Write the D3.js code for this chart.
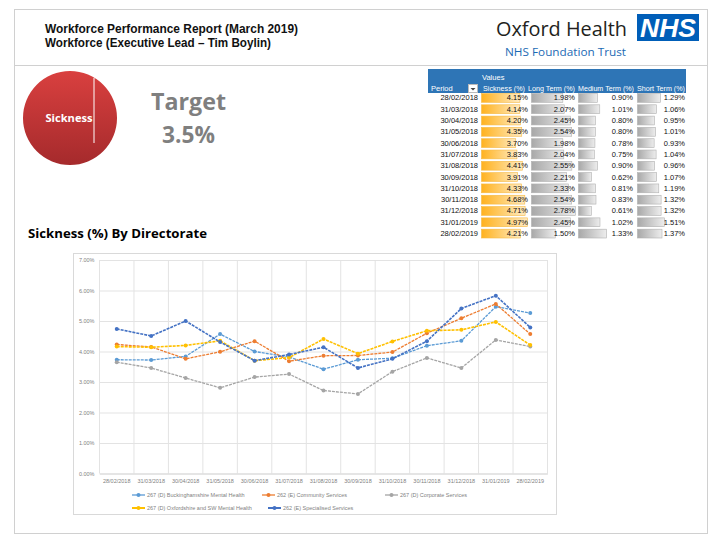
<!DOCTYPE html>
<html><head><meta charset="utf-8">
<script src="https://cdn.jsdelivr.net/npm/d3@7"></script>
<style>body{margin:0;background:#fff}svg{display:block}</style>
</head><body>
<svg id="c" width="720" height="540"></svg>
<script>
// ---------- data ----------
const periods = ["28/02/2018","31/03/2018","30/04/2018","31/05/2018","30/06/2018","31/07/2018","31/08/2018","30/09/2018","31/10/2018","30/11/2018","31/12/2018","31/01/2019","28/02/2019"];
const seriesNames = ["267 (D) Buckinghamshire Mental Health","262 (E) Community Services","267 (D) Corporate Services","267 (D) Oxfordshire and SW Mental Health","262 (E) Specialised Services"];
const seriesColors = ["#5B9BD5","#ED7D31","#A5A5A5","#FFC000","#4472C4"];
const bucks       = [3.73,3.72,3.84,4.57,4.00,3.82,3.42,3.73,3.78,4.19,4.35,5.47,5.26];
const community   = [4.23,4.15,3.76,3.99,4.34,3.68,3.86,3.87,3.98,4.60,5.09,5.56,4.57];
const corporate   = [3.65,3.46,3.13,2.81,3.16,3.26,2.72,2.61,3.34,3.79,3.46,4.38,4.16];
const oxfordshire = [4.16,4.14,4.20,4.35,3.70,3.80,4.41,3.93,4.33,4.68,4.71,4.97,4.21];
const specialised = [4.74,4.51,5.00,4.31,3.70,3.90,4.14,3.46,3.76,4.34,5.41,5.83,4.79];
const yTicks = [0,1,2,3,4,5,6,7];

const tableHeaders = ["Period","Sickness (%)","Long Term (%)","Medium Term (%)","Short Term (%)"];
const tableSickness = [4.15,4.14,4.20,4.35,3.70,3.83,4.41,3.91,4.33,4.68,4.71,4.97,4.21];
const tableLong     = [1.98,2.07,2.45,2.54,1.98,2.04,2.55,2.21,2.33,2.54,2.78,2.45,1.50];
const tableMedium   = [0.90,1.01,0.80,0.80,0.78,0.75,0.90,0.62,0.81,0.83,0.61,1.02,1.33];
const tableShort    = [1.29,1.06,0.95,1.01,0.93,1.04,0.96,1.07,1.19,1.32,1.32,1.51,1.37];

const pieLabel = "Sickness";
const pieValues = [1];
const targetLabel = "Target";
const targetValue = "3.5%";

// ---------- drawing ----------
const svg = d3.select("#c");
svg.append("rect").attr("width",720).attr("height",540).attr("fill","#fff");
const defs = svg.append("defs");

// page frame
svg.append("rect").attr("x",14.5).attr("y",9.5).attr("width",693).attr("height",524)
  .attr("fill","none").attr("stroke","#D0D0D0");
svg.append("line").attr("x1",14.5).attr("x2",707.5).attr("y1",65.5).attr("y2",65.5).attr("stroke","#D0D0D0");

// header titles
const hf = "'Liberation Sans Narrow', 'Liberation Sans', sans-serif";
svg.append("text").attr("x",45).attr("y",33).attr("font-family",hf).attr("font-weight","bold")
  .attr("font-size",12.5).attr("fill","#111").attr("textLength",253).attr("lengthAdjust","spacingAndGlyphs")
  .text("Workforce Performance Report (March 2019)");
svg.append("text").attr("x",45).attr("y",47).attr("font-family",hf).attr("font-weight","bold")
  .attr("font-size",12.5).attr("fill","#111").attr("textLength",226).attr("lengthAdjust","spacingAndGlyphs")
  .text("Workforce (Executive Lead \u2013 Tim Boylin)");

// logo
svg.append("text").attr("x",496).attr("y",36).attr("font-family","'Open Sans', sans-serif")
  .attr("font-size",20).attr("fill","#231F20").attr("textLength",131).attr("lengthAdjust","spacingAndGlyphs")
  .text("Oxford Health");
svg.append("rect").attr("x",637).attr("y",14).attr("width",62).attr("height",27).attr("fill","#005EB8");
svg.append("text").attr("x",668).attr("y",37).attr("text-anchor","middle").attr("font-family","'Liberation Sans', Arial, sans-serif")
  .attr("font-weight","bold").attr("font-style","italic").attr("font-size",25).attr("fill","#fff")
  .attr("textLength",56).attr("lengthAdjust","spacingAndGlyphs").text("NHS");
svg.append("text").attr("x",505).attr("y",56).attr("font-family","'Open Sans', sans-serif")
  .attr("font-size",11.5).attr("fill","#1C6AB4").attr("textLength",121).attr("lengthAdjust","spacingAndGlyphs")
  .text("NHS Foundation Trust");

// pie
const pg = defs.append("linearGradient").attr("id","pieg").attr("x1",0).attr("y1",0).attr("x2",0).attr("y2",1);
pg.append("stop").attr("offset","0%").attr("stop-color","#D9403F");
pg.append("stop").attr("offset","100%").attr("stop-color","#A52A2C");
const pie = d3.pie().sort(null)(pieValues);
const arc = d3.arc().innerRadius(0).outerRadius(47);
const pieG = svg.append("g").attr("transform","translate(70,118)");
pieG.selectAll("path").data(pie).join("path").attr("d",arc).attr("fill","url(#pieg)");
pieG.append("line").attr("x1",24).attr("x2",24).attr("y1",-40).attr("y2",25).attr("stroke","#fff").attr("stroke-width",1);
pieG.append("text").attr("x",-1).attr("y",4).attr("text-anchor","middle").attr("font-family","'Open Sans', sans-serif")
  .attr("font-weight","bold").attr("font-size",11).attr("fill","#fff").attr("textLength",47).attr("lengthAdjust","spacingAndGlyphs").text(pieLabel);

// target
svg.append("text").attr("x",188.5).attr("y",110).attr("text-anchor","middle").attr("font-family","'Open Sans', sans-serif")
  .attr("font-weight","bold").attr("font-size",24).attr("fill","#7F7F7F").attr("textLength",75).attr("lengthAdjust","spacingAndGlyphs").text(targetLabel);
svg.append("text").attr("x",188.5).attr("y",143).attr("text-anchor","middle").attr("font-family","'Open Sans', sans-serif")
  .attr("font-weight","bold").attr("font-size",24).attr("fill","#7F7F7F").attr("textLength",53).attr("lengthAdjust","spacingAndGlyphs").text(targetValue);

// section heading
svg.append("text").attr("x",28).attr("y",238).attr("font-family","'Open Sans', sans-serif")
  .attr("font-weight","bold").attr("font-size",13).attr("fill","#000").attr("textLength",179).attr("lengthAdjust","spacingAndGlyphs")
  .text("Sickness (%) By Directorate");

// ---------- table ----------
const tf = "'Liberation Sans Narrow', 'Liberation Sans', sans-serif";
const tX0 = 428, tX1 = 686;
svg.append("rect").attr("x",tX0).attr("y",69).attr("width",tX1-tX0).attr("height",24).attr("fill","#2E75B6");
svg.append("text").attr("x",482).attr("y",80).attr("font-family",tf).attr("font-size",7.5).attr("fill","#fff").text("Values");
const hdrX = [431, 483, 528, 578, 637];
const hdrW = [null, 42, 47, 56, 48];
tableHeaders.forEach((h,i)=>{
  const t = svg.append("text").attr("x",hdrX[i]).attr("y",91).attr("font-family",tf).attr("font-size",7.5).attr("fill","#fff").text(h);
  if (hdrW[i]) t.attr("textLength",hdrW[i]).attr("lengthAdjust","spacingAndGlyphs");
});
// filter button
svg.append("rect").attr("x",468.5).attr("y",84.5).attr("width",9).attr("height",8).attr("fill","#fff").attr("stroke","#bbb");
svg.append("path").attr("d","M470.5,88 L475.5,88 L473,90.5 Z").attr("fill","#444");

const rowY = d3.scaleBand().domain(periods).range([92,239]);
const rh = rowY.bandwidth();
const og = defs.append("linearGradient").attr("id","og").attr("x1",0).attr("x2",1).attr("y1",0).attr("y2",0);
og.append("stop").attr("offset","0%").attr("stop-color","#FFB21F");
og.append("stop").attr("offset","100%").attr("stop-color","#FFEBC2");
const gg = defs.append("linearGradient").attr("id","gg").attr("x1",0).attr("x2",1).attr("y1",0).attr("y2",0);
gg.append("stop").attr("offset","0%").attr("stop-color","#A8A8A8");
gg.append("stop").attr("offset","100%").attr("stop-color","#EDEDED");

const cols = [
  {vals: tableSickness, x0: 481, w: 46, tx: 528, fill:"url(#og)", stroke:"#F5B841"},
  {vals: tableLong,     x0: 531, w: 44, tx: 575, fill:"url(#gg)", stroke:"#B0B0B0"},
  {vals: tableMedium,   x0: 578, w: 28, tx: 633, fill:"url(#gg)", stroke:"#B0B0B0"},
  {vals: tableShort,    x0: 637, w: 27, tx: 685, fill:"url(#gg)", stroke:"#B0B0B0"}
];
const tbody = svg.append("g");
tbody.selectAll("text.per").data(periods).join("text").attr("class","per")
  .attr("x",478).attr("y",d=>rowY(d)+rh/2+2.7).attr("text-anchor","end")
  .attr("font-family",tf).attr("font-size",7.5).attr("fill","#111").text(d=>d);
cols.forEach(c=>{
  const s = d3.scaleLinear().domain([0,d3.max(c.vals)]).range([0,c.w]);
  const g = tbody.append("g");
  g.selectAll("rect").data(c.vals).join("rect")
    .attr("x",c.x0+0.5).attr("y",(d,i)=>rowY(periods[i])+1.5).attr("width",d=>s(d)).attr("height",rh-2.5)
    .attr("fill",c.fill).attr("stroke",c.stroke).attr("stroke-width",0.6);
  g.selectAll("text").data(c.vals).join("text")
    .attr("x",c.tx).attr("y",(d,i)=>rowY(periods[i])+rh/2+2.7).attr("text-anchor","end")
    .attr("font-family",tf).attr("font-size",7.5).attr("fill","#111").text(d=>d.toFixed(2)+"%");
});

// ---------- line chart ----------
svg.append("rect").attr("x",73.5).attr("y",253.5).attr("width",483).attr("height",261)
  .attr("fill","#fff").attr("stroke","#D9D9D9");
const x = d3.scaleBand().domain(periods).range([99.5,547.5]);
const cx = d => x(d) + x.bandwidth()/2;
const y = d3.scaleLinear().domain([0,7]).range([473.5,260]);
const cf = "'Liberation Sans', Arial, sans-serif";

// horizontal grid + y labels
const gy = svg.append("g").attr("transform","translate(99.5,0)")
  .call(d3.axisLeft(y).tickValues(yTicks).tickSize(-(547.5-99.5)).tickPadding(5).tickFormat(d=>d.toFixed(2)+"%"));
gy.select(".domain").remove();
gy.selectAll(".tick line").attr("stroke","#E3E3E3");
gy.selectAll(".tick text").attr("font-family",cf).attr("font-size",5.5).attr("fill","#7F7F7F");
// vertical grid at category boundaries
const bounds = periods.map(d=>x(d)).concat([x.range()[1]]);
svg.append("g").selectAll("line").data(bounds).join("line")
  .attr("x1",d=>d).attr("x2",d=>d).attr("y1",y(7)).attr("y2",y(0)).attr("stroke","#E3E3E3");
// x labels
const gx = svg.append("g").attr("transform","translate(0,473.5)")
  .call(d3.axisBottom(x).tickSize(0).tickPadding(6));
gx.select(".domain").attr("stroke","#D9D9D9");
gx.selectAll(".tick text").attr("font-family",cf).attr("font-size",5.5).attr("fill","#7F7F7F");

const allSeries = [bucks, community, corporate, oxfordshire, specialised];
const line = d3.line().x((d,i)=>cx(periods[i])).y(d=>y(d));
allSeries.forEach((vals,k)=>{
  const g = svg.append("g");
  g.append("path").datum(vals).attr("d",line).attr("fill","none")
    .attr("stroke",seriesColors[k]).attr("stroke-width",k>=3?1.6:1.3).attr("stroke-dasharray","3,1");
  g.selectAll("circle").data(vals).join("circle")
    .attr("cx",(d,i)=>cx(periods[i])).attr("cy",d=>y(d)).attr("r",2).attr("fill",seriesColors[k]);
});

// legend
const legPos = [[132,495],[262,495],[385,495],[132,508],[268,508]];
seriesNames.forEach((n,k)=>{
  const [lx,ly] = legPos[k];
  const g = svg.append("g").attr("transform",`translate(${lx},${ly})`);
  g.append("line").attr("x1",0).attr("x2",13).attr("y1",0).attr("y2",0).attr("stroke",seriesColors[k]).attr("stroke-width",k>=3?2:1.3);
  g.append("circle").attr("cx",6.5).attr("cy",0).attr("r",2).attr("fill",seriesColors[k]);
  g.append("text").attr("x",15).attr("y",2).attr("font-family",cf).attr("font-size",5.5).attr("fill","#7F7F7F").text(n);
});
</script>
</body></html>
